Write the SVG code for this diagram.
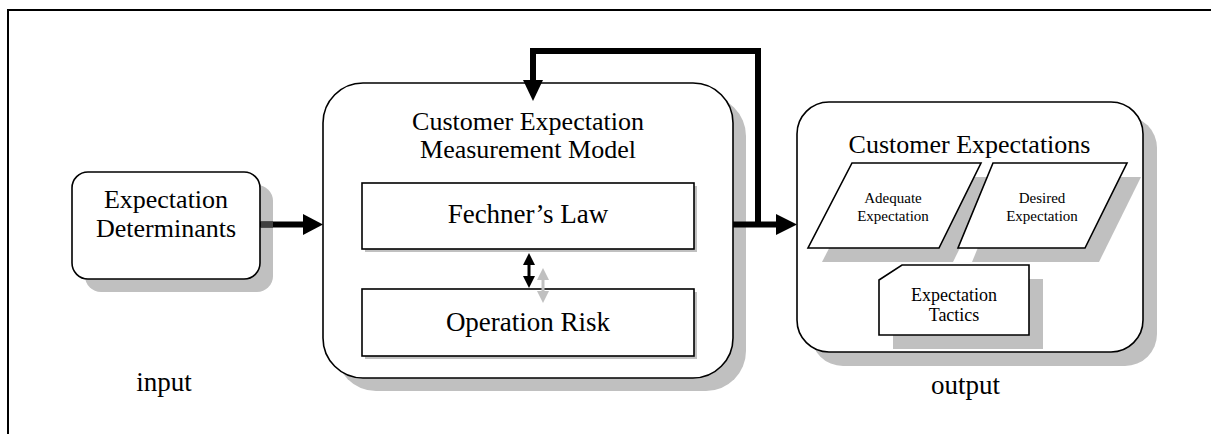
<svg xmlns="http://www.w3.org/2000/svg" width="1211" height="434" viewBox="0 0 1211 434" font-family="'Liberation Serif', 'DejaVu Serif', serif">
<style>
text{font-family:'Liberation Serif','DejaVu Serif',serif;fill:#000;text-anchor:middle}
.box{fill:#fff;stroke:#000;stroke-width:1.6}
.shadow{fill:#c0c0c0;stroke:none}
.big{font-size:26px}
.mid{font-size:27px}
.small{font-size:15px}
.tac{font-size:18px}
.lbl{font-size:27px}
.conn{fill:none;stroke:#000;stroke-width:6}
</style>
<rect width="1211" height="434" fill="#fff"/>
<path d="M8 434 V10 H1211" fill="none" stroke="#000" stroke-width="2"/>

<g id="input-node">
  <rect class="shadow" x="85" y="185" width="188" height="107" rx="16"/>
  <rect class="box" x="72" y="172" width="188" height="107" rx="16"/>
  <text class="big" x="166" y="208" font-family="Liberation Serif">Expectation</text>
  <text class="big" x="166" y="237" font-family="Liberation Serif">Determinants</text>
</g>

<g id="model-node">
  <rect class="shadow" x="336" y="96" width="410" height="295" rx="40"/>
  <rect class="box" x="323" y="83" width="410" height="295" rx="40"/>
  <text class="big" x="528" y="130" font-family="Liberation Serif">Customer Expectation</text>
  <text class="big" x="528" y="158" font-family="Liberation Serif">Measurement Model</text>
</g>

<g id="fechner-node">
  <rect class="shadow" x="365" y="186" width="332" height="66"/>
  <rect class="box" x="362" y="183" width="332" height="66"/>
  <text class="mid" x="528" y="223" font-family="Liberation Serif">Fechner’s Law</text>
</g>

<g id="risk-node">
  <rect class="shadow" x="365" y="292" width="332" height="67"/>
  <rect class="box" x="362" y="289" width="332" height="67"/>
  <text class="mid" x="528" y="331" font-family="Liberation Serif">Operation Risk</text>
</g>

<g id="expectations-node">
  <rect class="shadow" x="811" y="116" width="346" height="250" rx="32"/>
  <rect class="box" x="797" y="102" width="346" height="250" rx="32"/>
  <text class="big" x="969.5" y="153" font-family="Liberation Serif">Customer Expectations</text>
</g>

<g id="adequate-node">
  <polygon class="shadow" points="866,177 995,177 953,262 822,262"/>
  <polygon class="box" points="852,163 981,163 939,248 808,248"/>
  <text class="small" x="893" y="203" font-family="Liberation Serif">Adequate</text>
  <text class="small" x="893" y="221" font-family="Liberation Serif">Expectation</text>
</g>

<g id="desired-node">
  <polygon class="shadow" points="1007,177 1141,177 1099,262 972,262"/>
  <polygon class="box" points="993,163 1127,163 1085,248 958,248"/>
  <text class="small" x="1042" y="203" font-family="Liberation Serif">Desired</text>
  <text class="small" x="1042" y="221" font-family="Liberation Serif">Expectation</text>
</g>

<g id="tactics-node">
  <rect class="shadow" x="893" y="279" width="150" height="70"/>
  <polygon class="box" points="879,280 902,265 1029,265 1029,335 879,335"/>
  <text class="tac" x="954" y="301" font-family="Liberation Serif">Expectation</text>
  <text class="tac" x="954" y="321" font-family="Liberation Serif">Tactics</text>
</g>

<g id="connectors">
  <line class="conn" x1="260" y1="224.5" x2="305" y2="224.5"/>
  <polygon points="303,214 323,224.5 303,235" fill="#000"/>
  <line x1="261" y1="224.5" x2="273" y2="224.5" stroke="#404040" stroke-width="6"/>
  <path class="conn" d="M733 224.5 H778 M758 227 V51 H533 V82"/>
  <polygon points="776,214 797,224.5 776,235" fill="#000"/>
  <polygon points="523,80 543,80 533,101" fill="#000"/>
  <g fill="#c0c0c0" stroke="#c0c0c0">
    <line x1="543" y1="278" x2="543" y2="293" stroke-width="3"/>
    <polygon points="537,280 549,280 543,268" stroke="none"/>
    <polygon points="537,291 549,291 543,303" stroke="none"/>
  </g>
  <line x1="529" y1="263" x2="529" y2="278" stroke="#000" stroke-width="3"/>
  <polygon points="523,265 535,265 529,253" fill="#000"/>
  <polygon points="523,276 535,276 529,288" fill="#000"/>
</g>

<text class="lbl" x="164" y="391" font-family="Liberation Serif">input</text>
<text class="lbl" x="965.5" y="394" font-family="Liberation Serif">output</text>
</svg>
